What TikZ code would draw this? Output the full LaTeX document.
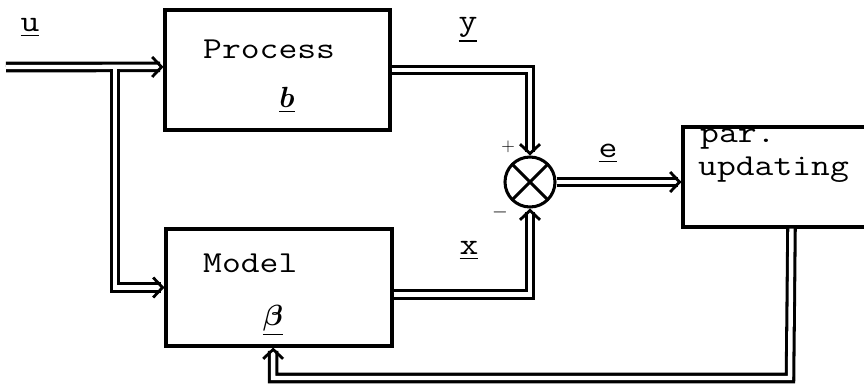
\documentclass[tikz,border=0pt]{standalone}
\usepackage{amsmath}
\usepackage{bm}
\usepackage{fontspec}
\setmonofont{Latin Modern Mono}[FakeStretch=1.2]
\usetikzlibrary{arrows.meta}
\begin{document}
\begin{tikzpicture}[
  x=0.03cm, y=-0.03cm,
  font=\ttfamily\fontsize{26}{30}\selectfont,
  block/.style={draw, line width=2.6pt, inner sep=0pt},
  sumnode/.style={draw, circle, line width=2.6pt, minimum size=1.5cm, inner sep=0pt,
    path picture={\draw[line width=2.6pt] (path picture bounding box.north west) -- (path picture bounding box.south east)
      (path picture bounding box.north east) -- (path picture bounding box.south west);}},
  sig/.style={double, double distance=3.8pt, line width=2.6pt,
    -{Straight Barb[length=8pt, width=17pt, line width'=2.4pt]}},
  txt/.style={anchor=base west, inner sep=0pt},
  lbl/.style={anchor=base, inner sep=0pt},
  small/.style={font=\fontsize{16}{18}\selectfont}
]
\useasboundingbox (0,0) rectangle (864,384);
\clip (0,0) rectangle (864,384);

% blocks
\node[block, minimum width=6.75cm, minimum height=3.6cm] (proc) at (277.5,70) {};
\node[block, minimum width=6.78cm, minimum height=3.51cm] (model) at (279,287.5) {};
\node[block, minimum width=6.51cm, minimum height=3cm] (par) at (791.5,177) {};
\node[sumnode] (sum) at (530,182) {};

% texts
\node[txt] (proctxt) at (203,58) {Process};
\node[lbl] (ptxt) at (287,107) {$\underline{\bm{b}}$};
\node[txt] (modeltxt) at (203,272) {Model};
\node[lbl] (mtxt) at (273,325) {$\underline{\bm{\beta}}$};
\node[txt] (partxt) at (700,142) {par.};
\node[txt] (updtxt) at (698,175) {updating};
\node[lbl] (ulbl) at (30,31) {\underline{u}};
\node[lbl] (ylbl) at (468,30) {\underline{y}};
\node[lbl] (xlbl) at (469,254) {\underline{x}};
\node[lbl] (elbl) at (608,157) {\underline{e}};
\node[small] (plus) at (508,147) {+};
\node[small] (minus) at (500,212) {$-$};

% signals
\coordinate (in) at (6,67);
\coordinate (br) at (115,69);
\coordinate (fb) at (790,378);
\draw[sig] (in) -- ([yshift=2.6pt]proc.west);
\draw[sig] (br) |- (model.west);
\draw[sig] (proc.east) -| (sum.north);
\draw[sig] ([yshift=-6pt]model.east) -| (sum.south);
\draw[sig] (sum.east) -- (sum.east -| par.west);
\draw[sig] (par.south) -- (fb) -| ([xshift=-5pt]model.south);
\end{tikzpicture}
\end{document}
